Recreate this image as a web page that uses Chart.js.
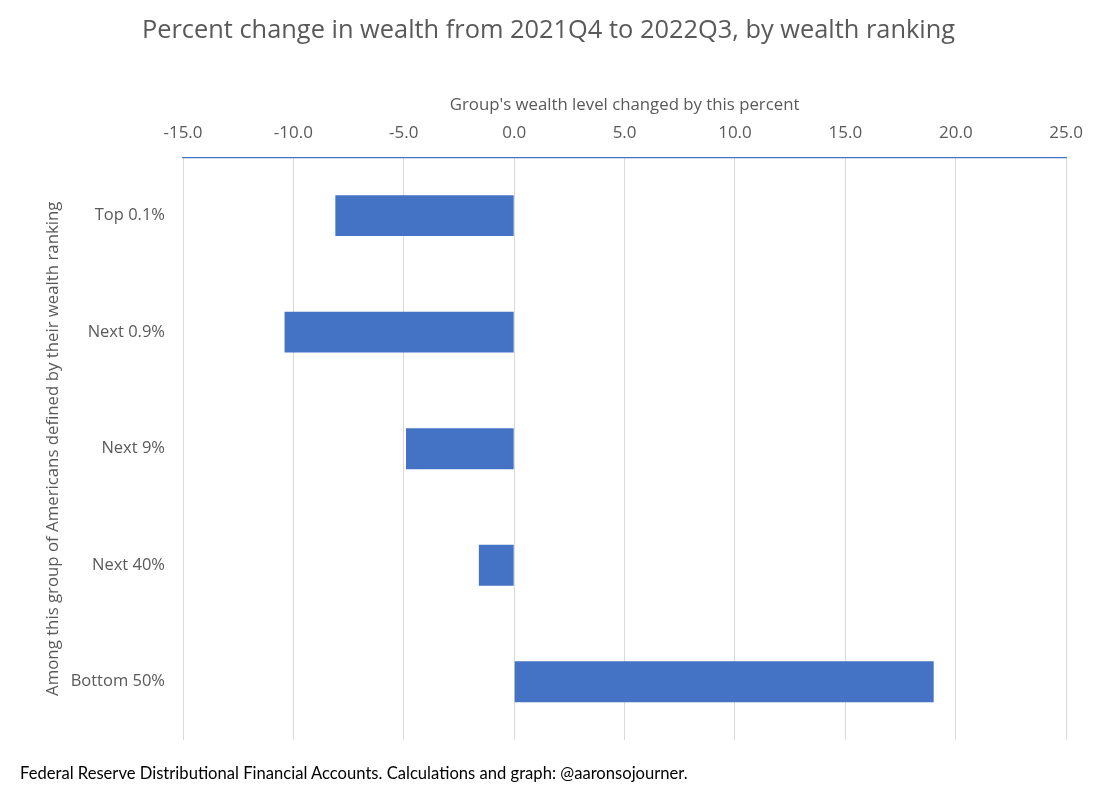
<!DOCTYPE html>
<html>
<head>
<meta charset="utf-8">
<script src="https://cdn.jsdelivr.net/npm/chart.js@4/dist/chart.umd.min.js"></script>
<style>
  html, body { margin: 0; padding: 0; background: #fff; }
  #wrap { position: relative; width: 1097px; height: 795px; }
  #note { position: absolute; left: 20px; top: 763px; font-family: Lato, sans-serif; font-size: 16.6px; color: #000; white-space: nowrap; }
</style>
</head>
<body>
<div id="wrap">
  <canvas id="chart" width="1097" height="795"></canvas>
  <div id="note">Federal Reserve Distributional Financial Accounts. Calculations and graph: @aaronsojourner.</div>
</div>
<script>
// groups, top to bottom
let groups = ['Top 0.1%', 'Next 0.9%', 'Next 9%', 'Next 40%', 'Bottom 50%'];
// percent change in wealth, 2021Q4 -> 2022Q3
let pct_change = [-8.1, -10.4, -4.9, -1.6, 19.0];
let x_min = -15;
let x_max = 25;
let x_step = 5;

let grey = '#595959';
let fam = "'Open Sans', sans-serif";

let ctx = document.getElementById('chart');
let chart = new Chart(ctx, {
    type: 'bar',
    data: {
        labels: groups,
        datasets: [
            {
                label: 'Percent change',
                data: pct_change,
                backgroundColor: '#4472C4',
                barPercentage: 0.35,
                categoryPercentage: 1.0,
            },
        ],
    },
    options: {
        indexAxis: 'y',
        responsive: false,
        animation: false,
        // same left/right padding so the title sits centred on the page
        layout: { padding: { top: 0, right: 30, bottom: 55, left: 30 } },
        scales: {
            x: {
                position: 'top',
                min: x_min,
                max: x_max,
                afterFit: (s) => { s.height = 101.5; },
                ticks: {
                    stepSize: x_step,
                    padding: 14,
                    color: grey,
                    font: { family: fam, size: 17 },
                    callback: (v) => Number(v).toFixed(1),
                },
                grid: { color: '#d9d9d9', drawTicks: false },
                border: { color: '#4472C4', width: 1.2 },
                title: {
                    display: true,
                    text: "Group's wealth level changed by this percent",
                    color: grey,
                    font: { family: fam, size: 16.8 },
                    padding: { top: 39.5, bottom: 0 },
                },
            },
            y: {
                afterFit: (s) => { s.width = 153; },
                ticks: {
                    padding: 18,
                    color: grey,
                    font: { family: fam, size: 16.5 },
                },
                grid: { display: false, drawTicks: false },
                border: { display: false },
                title: {
                    display: true,
                    text: 'Among this group of Americans defined by their wealth ranking',
                    color: grey,
                    font: { family: fam, size: 16.8 },
                    padding: { top: 13, bottom: 0 },
                },
            },
        },
        plugins: {
            legend: { display: false },
            tooltip: { enabled: false },
            title: {
                display: true,
                text: 'Percent change in wealth from 2021Q4 to 2022Q3, by wealth ranking',
                color: grey,
                font: { family: fam, size: 25.4, weight: 'normal' },
                padding: { top: 15.5, bottom: 10 },
            },
        },
    },
});
</script>
</body>
</html>
